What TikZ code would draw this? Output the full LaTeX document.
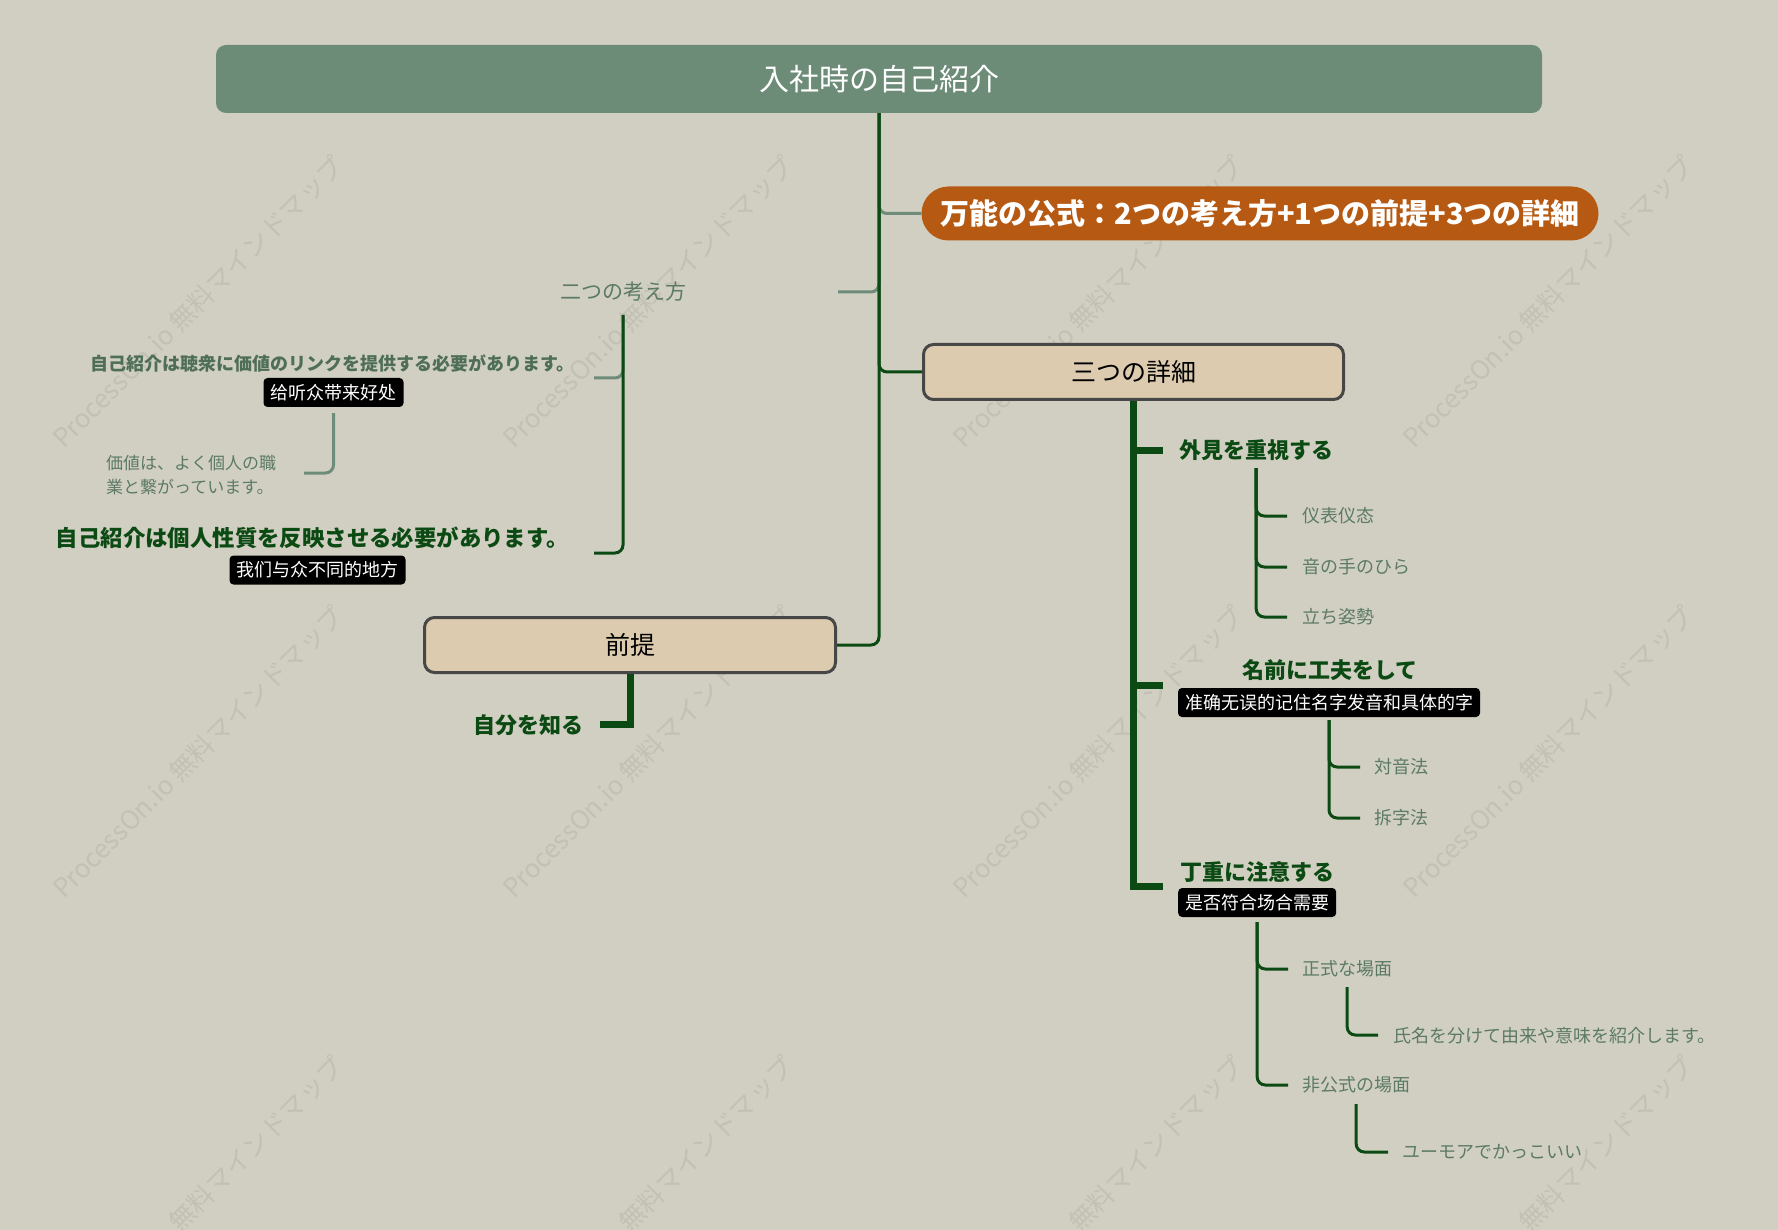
\documentclass[tikz,border=0pt]{standalone}
\usepackage{fontspec}
\setmainfont{Noto Sans CJK JP}
\newfontfamily\scf{Noto Sans CJK SC}
\usetikzlibrary{calc}
\definecolor{bgc}{HTML}{D1CFC2}
\definecolor{rootc}{HTML}{6D8C78}
\definecolor{orangec}{HTML}{B65A13}
\definecolor{boxc}{HTML}{DCCBAF}
\definecolor{borderc}{HTML}{474747}
\definecolor{darkg}{HTML}{0C4A14}
\definecolor{lineg}{HTML}{6E8C79}
\definecolor{textg}{HTML}{5C7A66}
\definecolor{textg2}{HTML}{4F6E58}
\definecolor{wmc}{HTML}{C3C1B4}
\tikzset{
 rootbox/.style={fill=rootc, rounded corners=10pt, text=white, font=\fontsize{30}{36}\selectfont, minimum width=1326pt, minimum height=68pt, inner sep=0pt},
 formulabox/.style={fill=orangec, rounded corners=27pt, text=white, font=\bfseries\fontsize{29}{34}\selectfont, minimum width=677pt, minimum height=54pt, inner sep=0pt},
 mainbox/.style={fill=boxc, draw=borderc, line width=3pt, rounded corners=10pt, font=\fontsize{25}{30}\selectfont, minimum height=55pt, inner sep=0pt},
 lvlA/.style={text=darkg, font=\bfseries\fontsize{22}{26}\selectfont, inner sep=0pt},
 lvlT/.style={text=textg2, font=\bfseries\fontsize{18}{22}\selectfont, inner sep=0pt},
 lvlB/.style={text=textg, font=\fontsize{18}{22}\selectfont, inner sep=0pt},
 tag/.style={fill=black, text=white, rounded corners=4pt, font=\scf\fontsize{18}{22}\selectfont, minimum height=29pt, inner xsep=7pt, inner ysep=0pt},
 dk/.style={draw=darkg, line width=3pt, rounded corners=8pt},
 lt/.style={draw=lineg, line width=3pt, rounded corners=8pt},
 dkthick/.style={draw=darkg, line width=7pt, line cap=butt, line join=miter},
 wm/.style={text=wmc, rotate=45, font=\fontsize{26}{30}\selectfont, inner sep=0pt},
}
\begin{document}
\begin{tikzpicture}[x=1pt,y=-1pt]
\useasboundingbox (0,0) rectangle (1778,1230);
\clip (0,0) rectangle (1778,1230);
\fill[bgc] (0,0) rectangle (1778,1230);
% watermarks
\foreach \i in {0,1,2,3} \foreach \j in {0,1,2,3}
  \node[wm] (wm\i\j) at (198+450*\i, -148+450*\j) {ProcessOn.io 無料マインドマップ};

% main nodes
\node[rootbox] (root) at (879,79) {入社時の自己紹介};
\node[formulabox] (formula) at (1260,213.5) {万能の公式：2つの考え方+1つの前提+3つの詳細};
\node[mainbox, minimum width=420pt] (tri) at (1133.5,372) {三つの詳細};
\node[mainbox, minimum width=411pt] (prem) at (630,645) {前提};
\node[text=textg, font=\fontsize{21}{25}\selectfont, inner sep=0pt] (two) at (623,292) {二つの考え方};
\coordinate (twoR) at (838,292);

% trunk connectors
\draw[lt] (root.south) |- (formula.west);
\draw[lt] (root.south) |- (twoR);
\draw[dk] (root.south) |- (tri.west);
\draw[dk] (root.south) |- (prem.east);

% two-ways subtree
\node[lvlT, anchor=east] (t1) at (575,364) {自己紹介は聴衆に価値のリンクを提供する必要があります。};
\node[tag] (lab1) at (333.5,392.5) {给听众带来好处};
\node[lvlB, anchor=west, align=left, font=\fontsize{17}{24}\selectfont] (vtext) at (106,475) {価値は、よく個人の職\\業と繋がっています。};
\node[lvlA, anchor=east, font=\bfseries\fontsize{22.4}{26}\selectfont] (t2) at (569,538) {自己紹介は個人性質を反映させる必要があります。};
\node[tag] (lab2) at (317.5,570) {我们与众不同的地方};
\coordinate (j1) at (594,378);
\coordinate (j2) at (594,553);
\coordinate (j3) at (304,473);
\draw[lt] ($(two.center)+(0,23)$) |- (j1);
\draw[dk] ($(two.center)+(0,23)$) |- (j2);
\draw[lt] ($(lab1.south)+(0,6)$) |- (j3);

% premise subtree
\node[lvlA, anchor=east] (self) at (584,725) {自分を知る};
\coordinate (jself) at (600,724);
\draw[dkthick] (prem.south) |- (jself);

% details subtree
\coordinate (jb1) at (1163,450);
\coordinate (jb2) at (1163,685);
\coordinate (jb3) at (1163,886);
\draw[dkthick] (tri.south) |- (jb1);
\draw[dkthick] (tri.south) |- (jb2);
\draw[dkthick] (tri.south) |- (jb3);

\node[lvlA, anchor=west] (n1) at (1179,450) {外見を重視する};
\node[lvlB, anchor=west] (n1a) at (1302,516) {\scf 仪表仪态};
\node[lvlB, anchor=west] (n1b) at (1302,567) {音の手のひら};
\node[lvlB, anchor=west] (n1c) at (1302,617) {立ち姿勢};
\coordinate (ja1) at (1287,516);
\coordinate (ja2) at (1287,567);
\coordinate (ja3) at (1287,617);
\draw[dk] ($(n1.center)+(0,18)$) |- (ja1);
\draw[dk] ($(n1.center)+(0,18)$) |- (ja2);
\draw[dk] ($(n1.center)+(0,18)$) |- (ja3);

\node[lvlA] (n2) at (1330,670) {名前に工夫をして};
\node[tag] (lab3) at (1329,702.5) {准确无误的记住名字发音和具体的字};
\node[lvlB, anchor=west] (n2a) at (1374,767) {対音法};
\node[lvlB, anchor=west] (n2b) at (1374,818) {\scf 拆字法};
\coordinate (jn1) at (1360,767);
\coordinate (jn2) at (1360,818);
\draw[dk] ($(lab3.south)+(0,3)$) |- (jn1);
\draw[dk] ($(lab3.south)+(0,3)$) |- (jn2);

\node[lvlA, anchor=west] (n3) at (1180,872) {丁重に注意する};
\node[tag, anchor=west] (lab4) at (1178,902.5) {是否符合场合需要};
\node[lvlB, anchor=west] (n3a) at (1302,969) {正式な場面};
\node[lvlB, anchor=west] (n3b) at (1302,1085) {非公式の場面};
\coordinate (jc1) at (1288,969);
\coordinate (jc2) at (1288,1085);
\draw[dk] ($(lab4.south)+(0,5)$) |- (jc1);
\draw[dk] ($(lab4.south)+(0,5)$) |- (jc2);

\node[lvlB, anchor=west] (n3a1) at (1393,1036) {氏名を分けて由来や意味を紹介します。};
\node[lvlB, anchor=west] (n3b1) at (1402,1152) {ユーモアでかっこいい};
\coordinate (jd1) at (1378,1035);
\coordinate (jd2) at (1388,1152);
\draw[dk] ($(n3a.center)+(0,18)$) |- (jd1);
\draw[dk] ($(n3b.center)+(0,19)$) |- (jd2);
\end{tikzpicture}
\end{document}
